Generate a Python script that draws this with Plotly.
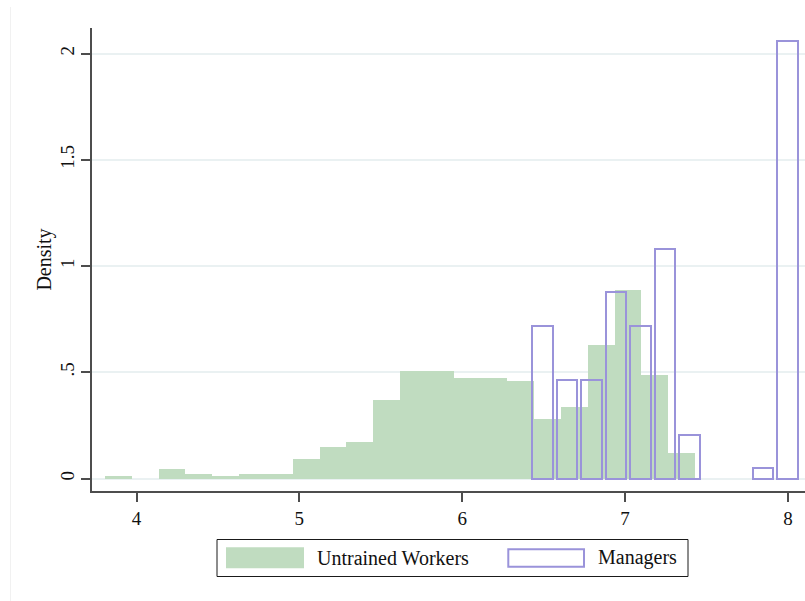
import numpy as np
import plotly.graph_objects as go

# Untrained workers: log-wage histogram (density per bin)
untrained_start = 3.8066
untrained_binwidth = 0.16464
untrained_density = [0.012, 0.0, 0.046, 0.021, 0.012, 0.023, 0.023, 0.093, 0.148, 0.173,
                     0.370, 0.508, 0.508, 0.475, 0.475, 0.461, 0.278, 0.336, 0.626, 0.889,
                     0.485, 0.118]

# Managers: log-wage histogram (density per bin)
managers_start = 6.4187
managers_binwidth = 0.15040
managers_density = [0.720, 0.463, 0.463, 0.876, 0.720, 1.081, 0.205, 0.0, 0.0, 0.051, 2.060]

x_ticks = [4, 5, 6, 7, 8]
x_ticklabels = ["4", "5", "6", "7", "8"]
y_ticks = [0, 0.5, 1, 1.5, 2]
y_ticklabels = ["0", ".5", "1", "1.5", "2"]

series_names = ["Untrained Workers", "Managers"]

GREEN = "#c0dcc0"
PURPLE = "#9a93da"
AXIS = "#4d4d4d"
GRID = "#eaf1f2"
FONT = "Liberation Serif"

W, H = 805, 601
ML, MR, MT, MB = 92, 0, 28, 110
PW, PH = W - ML - MR, H - MT - MB


def px(x):
    return (x - ML) / PW


def py(y):
    return (H - MB - y) / PH


def nonempty_bins(start, width, density):
    """Bin centres and heights, skipping bins with no observations."""
    centers = start + width * (np.arange(len(density)) + 0.5)
    keep = [i for i, d in enumerate(density) if d > 0]
    return centers[keep], [density[i] for i in keep]


u_x, u_y = nonempty_bins(untrained_start, untrained_binwidth, untrained_density)
m_x, m_y = nonempty_bins(managers_start, managers_binwidth, managers_density)

fig = go.Figure()
fig.add_trace(go.Bar(
    x=u_x, y=u_y, width=untrained_binwidth,
    marker=dict(color=GREEN, line=dict(width=0)),
    name=series_names[0], showlegend=False,
))
fig.add_trace(go.Bar(
    x=m_x, y=m_y, width=managers_binwidth * 0.84,
    marker=dict(color="rgba(0,0,0,0)", line=dict(color=PURPLE, width=2)),
    name=series_names[1], showlegend=False,
))

# legend box drawn from shapes and text
shapes = [
    dict(type="line", xref="paper", yref="paper", x0=px(10.5), x1=px(10.5),
         y0=py(7), y1=py(601), line=dict(color="#f1f1f1", width=1), layer="below"),
    dict(type="rect", xref="paper", yref="paper", x0=px(217), x1=px(688),
         y0=py(539.5), y1=py(576.5), line=dict(color="#1a1a1a", width=1), fillcolor="white"),
    dict(type="rect", xref="paper", yref="paper", x0=px(226), x1=px(304),
         y0=py(547.3), y1=py(568.3), line=dict(width=0), fillcolor=GREEN),
    dict(type="rect", xref="paper", yref="paper", x0=px(508.3), x1=px(584),
         y0=py(549.3), y1=py(566.7), line=dict(color=PURPLE, width=2), fillcolor="white"),
]
annotations = [
    dict(xref="paper", yref="paper", x=px(315), y=py(557.5), text=series_names[0],
         showarrow=False, xanchor="left", yanchor="middle",
         font=dict(family=FONT, size=20, color="#111")),
    dict(xref="paper", yref="paper", x=px(596), y=py(557.5), text=series_names[1],
         showarrow=False, xanchor="left", yanchor="middle",
         font=dict(family=FONT, size=20, color="#111")),
]

fig.update_layout(
    width=W, height=H,
    margin=dict(l=ML, r=MR, t=MT, b=MB, pad=0),
    paper_bgcolor="white", plot_bgcolor="white",
    barmode="overlay", bargap=0,
    showlegend=False,
    shapes=shapes, annotations=annotations,
    font=dict(family=FONT, size=19, color="#111"),
    xaxis=dict(
        range=[3.7268, 8.1044], tickvals=x_ticks, ticktext=x_ticklabels,
        showgrid=False, zeroline=False, showline=True, linecolor=AXIS, linewidth=1.5,
        ticks="outside", ticklen=9, tickwidth=1.5, tickcolor=AXIS,
        tickfont=dict(family=FONT, size=19, color="#111"),
    ),
    yaxis=dict(
        range=[-0.0588, 2.120], tickvals=y_ticks, ticktext=y_ticklabels,
        showgrid=True, gridcolor=GRID, gridwidth=1.5, zeroline=False,
        showline=True, linecolor=AXIS, linewidth=1.5,
        ticks="outside", ticklen=9, tickwidth=1.5, tickcolor=AXIS,
        tickangle=-90, tickfont=dict(family=FONT, size=19, color="#111"),
        title=dict(text="Density", font=dict(family=FONT, size=20, color="#111"), standoff=0),
    ),
)

fig.write_html("out.html")
